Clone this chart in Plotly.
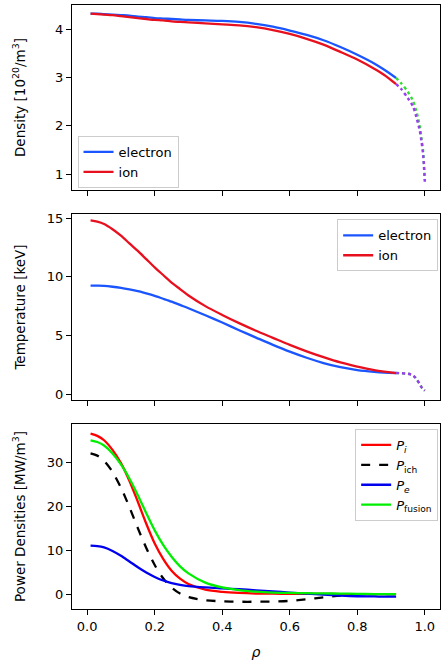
import plotly.graph_objects as go

# ---------------- data ----------------
rho = [0.01, 0.03, 0.05, 0.075, 0.1, 0.125, 0.15, 0.175, 0.2, 0.225, 0.25, 0.275,
       0.3, 0.35, 0.4, 0.45, 0.5, 0.55, 0.6, 0.65, 0.7, 0.75, 0.8, 0.85, 0.88, 0.915]
rho_edge = [0.915, 0.93, 0.95, 0.965, 0.975, 0.985, 0.99, 0.995, 1.0]

ne = [4.32, 4.32, 4.31, 4.30, 4.29, 4.28, 4.26, 4.25, 4.23, 4.22, 4.21, 4.20,
      4.19, 4.18, 4.17, 4.15, 4.11, 4.05, 3.97, 3.88, 3.77, 3.63, 3.47, 3.29, 3.16, 2.99]
ni = [4.32, 4.31, 4.30, 4.29, 4.27, 4.25, 4.23, 4.21, 4.19, 4.18, 4.16, 4.15,
      4.14, 4.12, 4.10, 4.08, 4.04, 3.98, 3.90, 3.80, 3.68, 3.53, 3.37, 3.18, 3.05, 2.86]
ne_edge = [2.99, 2.88, 2.70, 2.52, 2.30, 2.00, 1.75, 1.48, 0.88]
ni_edge = [2.86, 2.76, 2.57, 2.40, 2.18, 1.90, 1.68, 1.40, 0.84]

te = [9.25, 9.24, 9.22, 9.15, 9.05, 8.92, 8.77, 8.58, 8.37, 8.13, 7.88, 7.6,
      7.32, 6.72, 6.1, 5.45, 4.82, 4.2, 3.62, 3.1, 2.65, 2.3, 2.05, 1.9, 1.84, 1.8]
ti = [14.8, 14.7, 14.5, 14.05, 13.5, 12.85, 12.2, 11.5, 10.8, 10.15, 9.5, 8.95,
      8.4, 7.5, 6.75, 6.05, 5.4, 4.8, 4.2, 3.65, 3.15, 2.7, 2.35, 2.05, 1.92, 1.8]
te_edge = [1.8, 1.78, 1.74, 1.6, 1.3, 0.85, 0.6, 0.42, 0.3]
ti_edge = [1.8, 1.78, 1.74, 1.6, 1.3, 0.85, 0.6, 0.42, 0.3]

p_i = [36.5, 36.0, 35.0, 32.8, 29.8, 25.8, 21.0, 16.0, 11.5, 8.0, 5.3, 3.5,
       2.3, 1.0, 0.5, 0.25, 0.12, 0.08, 0.05, 0.03, 0.02, 0.0, 0.0, 0.0, 0.0, 0.0]
p_ich = [32.0, 31.5, 30.3, 27.8, 24.2, 19.8, 15.0, 10.5, 6.6, 3.6, 1.5, 0.1,
         -0.7, -1.4, -1.65, -1.75, -1.75, -1.7, -1.55, -1.2, -0.75, -0.35, -0.1, 0.0, 0.0, 0.0]
p_e = [11.0, 10.9, 10.6, 9.8, 8.7, 7.4, 6.1, 4.9, 3.9, 3.1, 2.5, 2.1,
       1.8, 1.5, 1.3, 1.1, 0.85, 0.6, 0.35, 0.1, -0.15, -0.35, -0.5, -0.55, -0.6, -0.6]
p_fus = [35.0, 34.6, 33.8, 32.0, 29.5, 26.3, 22.5, 18.4, 14.5, 11.2, 8.5, 6.3,
         4.7, 2.6, 1.5, 0.9, 0.55, 0.35, 0.25, 0.2, 0.15, 0.1, 0.05, 0.0, 0.0, 0.0]

x_ticks = [0.0, 0.2, 0.4, 0.6, 0.8, 1.0]
y1_ticks = [1, 2, 3, 4]
y2_ticks = [0, 5, 10, 15]
y3_ticks = [0, 10, 20, 30]

# ---------------- styles ----------------
C_E = "#1a55ff"
C_I = "#e8101e"
C_EDGE1 = "#9a3cf0"
C_EDGE2 = "#33dd33"
FONT = "DejaVu Sans"

fig = go.Figure()

def line(x, y, color, name=None, xa="x", ya="y", dash="solid", width=2.3,
         legend="legend"):
    fig.add_trace(go.Scatter(x=x, y=y, mode="lines", name=name,
                             line=dict(color=color, width=width, dash=dash,
                                       shape="spline", smoothing=0.8),
                             xaxis=xa, yaxis=ya, legend=legend,
                             showlegend=name is not None))

# Density
line(rho, ne, C_E, "electron", "x", "y", legend="legend")
line(rho, ni, C_I, "ion", "x", "y", legend="legend")
line(rho_edge, ne_edge, C_EDGE2, None, "x", "y", dash="dot", width=2.4)
line(rho_edge, ni_edge, C_EDGE1, None, "x", "y", dash="dot", width=2.4)

# Temperature
line(rho, te, C_E, "electron", "x2", "y2", legend="legend2")
line(rho, ti, C_I, "ion", "x2", "y2", legend="legend2")
line(rho_edge, te_edge, C_EDGE2, None, "x2", "y2", dash="dot", width=2.4)
line(rho_edge, ti_edge, C_EDGE1, None, "x2", "y2", dash="dot", width=2.4)

# Power densities
line(rho, p_i, "#ff0000", "<i>P</i><sub><i>i</i></sub>", "x3", "y3", legend="legend3")
line(rho, p_ich, "#000000", "<i>P</i><sub>ich</sub>", "x3", "y3", dash="dash", legend="legend3")
line(rho, p_e, "#0000ee", "<i>P</i><sub><i>e</i></sub>", "x3", "y3", legend="legend3")
line(rho, p_fus, "#00ee00", "<i>P</i><sub>fusion</sub>", "x3", "y3", legend="legend3")

axis_common = dict(showline=True, mirror=True, linecolor="black", linewidth=1.2,
                   ticks="outside", ticklen=5, tickwidth=1.2, tickcolor="black",
                   showgrid=False, zeroline=False,
                   tickfont=dict(family=FONT, size=13, color="black"))

xr = [-0.045, 1.045]
legend_common = dict(xref="paper", yref="paper", bgcolor="rgba(255,255,255,0.85)",
                     bordercolor="#cccccc", borderwidth=1,
                     font=dict(family=FONT, size=13), tracegroupgap=0, itemwidth=30)

fig.update_layout(
    width=441, height=666,
    margin=dict(l=72, r=1, t=5, b=57),
    plot_bgcolor="white", paper_bgcolor="white",
    font=dict(family=FONT, size=13, color="black"),
    xaxis=dict(domain=[0, 1], range=xr, tickvals=x_ticks, showticklabels=False,
               anchor="y", **axis_common),
    xaxis2=dict(domain=[0, 1], range=xr, tickvals=x_ticks, showticklabels=False,
                anchor="y2", matches="x", **axis_common),
    xaxis3=dict(domain=[0, 1], range=xr, tickvals=x_ticks, tickformat=".1f",
                anchor="y3", matches="x",
                title=dict(text="<i>ρ</i>", standoff=14, font=dict(family=FONT, size=14)),
                **axis_common),
    yaxis=dict(domain=[0.6937, 1.0], range=[0.67, 4.5], tickvals=y1_ticks,
               anchor="x",
               title=dict(text="Density [10<sup>20</sup>/m<sup>3</sup>]", standoff=26,
                          font=dict(family=FONT, size=13.5)),
               **axis_common),
    yaxis2=dict(domain=[0.346, 0.654], range=[-0.5, 15.35], tickvals=y2_ticks,
                anchor="x2",
                title=dict(text="Temperature [keV]", standoff=18,
                           font=dict(family=FONT, size=13.5)),
                **axis_common),
    yaxis3=dict(domain=[0.0, 0.3063], range=[-3.4, 38.7], tickvals=y3_ticks,
                anchor="x3",
                title=dict(text="Power Densities [MW/m<sup>3</sup>]", standoff=18,
                           font=dict(family=FONT, size=13.5)),
                **axis_common),
    legend=dict(x=0.015, y=0.697, xanchor="left", yanchor="bottom", **legend_common),
    legend2=dict(x=0.995, y=0.645, xanchor="right", yanchor="top", **legend_common),
    legend3=dict(x=0.995, y=0.298, xanchor="right", yanchor="top", **legend_common),
)

fig.write_html("out.html")
